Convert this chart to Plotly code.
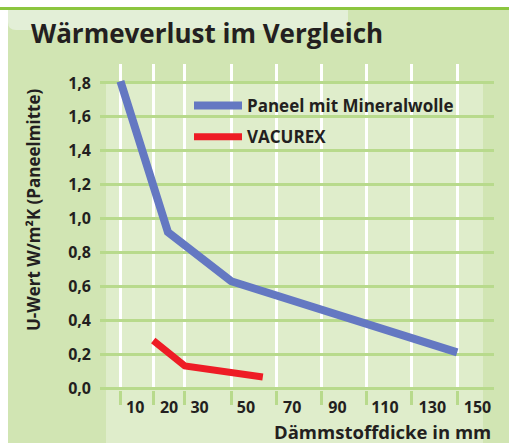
import plotly.graph_objects as go

# ---- data ----
x_labels = ["10", "20", "30", "50", "70", "90", "110", "130", "150"]
x_label_pos = [-2.5, 12.5, 26, 46.5, 67, 87, 108, 129, 149]
x_grid_pos = [-9, 5.5, 19.5, 40, 60, 80, 100, 120, 140]

mineral_x = [-9, 12, 40, 140]
mineral_y = [1.81, 0.92, 0.63, 0.21]
vacurex_x = [5.5, 19.5, 54]
vacurex_y = [0.28, 0.13, 0.065]

y_ticks = [0.0, 0.2, 0.4, 0.6, 0.8, 1.0, 1.2, 1.4, 1.6, 1.8]

title_text = "Wärmeverlust im Vergleich"
y_title = "U-Wert W/m²K (Paneelmitte)"
x_title = "Dämmstoffdicke in mm"

# ---- layout geometry (pixels) ----
W, H = 509, 443
PL, PR, PT, PB = 100, 494, 64, 390

def px(x):
    return (x - PL) / (PR - PL)

def py(y):
    return (PB - y) / (PB - PT)

FONT = "Open Sans"
DARK = "#231f20"
OUTER = "#d1e5b3"
LIGHT = "#dfedcb"
HIGHLIGHT = "#e3efd7"
GRID = "#b8da8c"
BAR = "#8cc63f"
BLUE = "#6478c2"
RED = "#ee1c25"

fig = go.Figure()
fig.add_trace(go.Scatter(x=mineral_x, y=mineral_y, mode="lines",
                         name="Paneel mit Mineralwolle",
                         line=dict(color=BLUE, width=8), legendgroup="a"))
fig.add_trace(go.Scatter(x=vacurex_x, y=vacurex_y, mode="lines",
                         name="VACUREX",
                         line=dict(color=RED, width=7), legendgroup="b"))

shapes = [
    dict(type="rect", xref="paper", yref="paper", x0=px(0), x1=px(8), y0=py(H), y1=py(0),
         fillcolor="white", line_width=0, layer="below"),
    dict(type="rect", xref="paper", yref="paper", x0=px(0), x1=px(W), y0=py(7), y1=py(0),
         fillcolor="white", line_width=0, layer="below"),
    dict(type="rect", xref="paper", yref="paper", x0=px(0), x1=px(W), y0=py(10), y1=py(7),
         fillcolor=BAR, line_width=0, layer="below"),
    dict(type="path", xref="paper", yref="paper",
         path=(f"M {px(8)} {py(10)} L {px(348)} {py(10)} L {px(348)} {py(22)} "
               f"Q {px(348)} {py(30)} {px(340)} {py(30)} L {px(16)} {py(30)} "
               f"Q {px(8)} {py(30)} {px(8)} {py(22)} Z"),
         fillcolor=HIGHLIGHT, line_width=0, layer="below"),
    dict(type="rect", xref="paper", yref="paper", x0=px(106), x1=px(483), y0=py(H), y1=py(83),
         fillcolor=LIGHT, line_width=0, layer="below"),
]

annotations = [
    dict(text=title_text, xref="paper", yref="paper", x=px(29), y=py(33),
         xanchor="left", yanchor="middle", showarrow=False,
         font=dict(family=FONT, size=26, color=DARK, weight=700)),
    dict(text=y_title, xref="paper", yref="paper", x=px(33), y=py(210),
         xanchor="center", yanchor="middle", showarrow=False, textangle=-90,
         font=dict(family=FONT, size=17, color=DARK, weight=700)),
    dict(text=x_title, xref="paper", yref="paper", x=px(493), y=py(431),
         xanchor="right", yanchor="middle", showarrow=False,
         font=dict(family=FONT, size=18.5, color=DARK, weight=700)),
]

fig.update_layout(
    width=W, height=H,
    margin=dict(l=PL, r=W - PR, t=PT, b=H - PB, pad=0),
    paper_bgcolor=OUTER, plot_bgcolor="rgba(0,0,0,0)",
    separators=", ",
    shapes=shapes, annotations=annotations,
    showlegend=True,
    legend=dict(x=px(189), y=py(88), xanchor="left", yanchor="top",
                bgcolor="rgba(0,0,0,0)", borderwidth=0,
                font=dict(family=FONT, size=17, color=DARK, weight=700),
                itemwidth=48, tracegroupgap=6, traceorder="grouped"),
    xaxis=dict(range=[-18.05, 156.3], tickmode="array", tickvals=x_label_pos,
               ticktext=x_labels, ticks="", showgrid=False, zeroline=False,
               showline=False, ticklabelstandoff=6,
               tickfont=dict(family=FONT, size=16, color=DARK, weight=700),
               minor=dict(tickmode="array", tickvals=x_grid_pos, showgrid=True,
                          gridcolor="white", gridwidth=3, ticks="outside",
                          ticklen=14, tickwidth=3, tickcolor=GRID)),
    yaxis=dict(range=[-0.0118, 1.9115], tickmode="array", tickvals=y_ticks,
               tickformat=".1f", ticks="", showgrid=True, gridcolor=GRID,
               gridwidth=3, zeroline=False, showline=False, ticklabelstandoff=8,
               tickfont=dict(family=FONT, size=16, color=DARK, weight=700)),
)

fig.write_html("out.html", config={"displayModeBar": False},
               post_script="document.body.style.margin='0';document.body.style.overflow='hidden';")
